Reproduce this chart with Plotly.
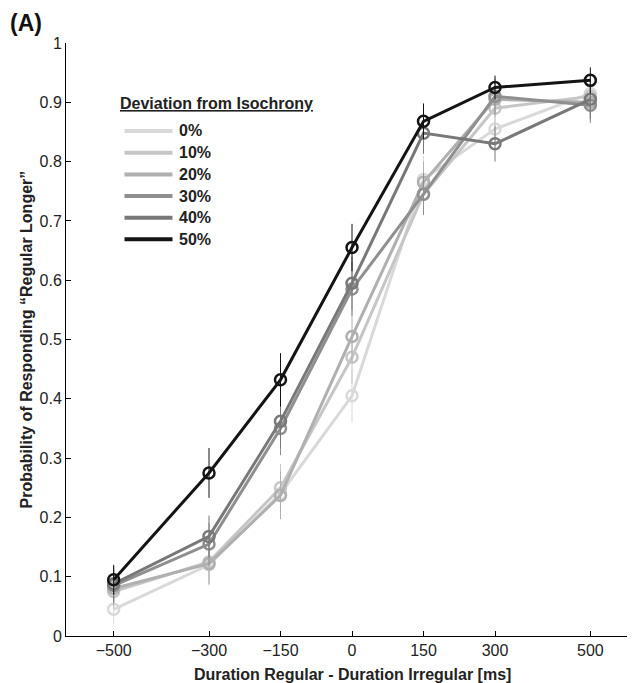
import plotly.graph_objects as go

# ---- data ----
x_ms = [-500, -300, -150, 0, 150, 300, 500]
tick_labels = ["\u2212500", "\u2212300", "\u2212150", "0", "150", "300", "500"]

series_names = ["0%", "10%", "20%", "30%", "40%", "50%"]
p_0 = [0.045, 0.120, 0.240, 0.405, 0.770, 0.855, 0.915]
p_10 = [0.075, 0.125, 0.250, 0.470, 0.745, 0.890, 0.910]
p_20 = [0.080, 0.122, 0.237, 0.505, 0.765, 0.905, 0.900]
p_30 = [0.085, 0.155, 0.350, 0.585, 0.745, 0.910, 0.895]
p_40 = [0.088, 0.168, 0.362, 0.595, 0.848, 0.830, 0.905]
p_50 = [0.095, 0.275, 0.432, 0.655, 0.868, 0.925, 0.937]

e_0 = [0.025, 0.035, 0.040, 0.045, 0.040, 0.030, 0.030]
e_10 = [0.030, 0.036, 0.040, 0.045, 0.035, 0.030, 0.033]
e_20 = [0.030, 0.035, 0.040, 0.045, 0.035, 0.030, 0.030]
e_30 = [0.030, 0.036, 0.045, 0.045, 0.035, 0.030, 0.030]
e_40 = [0.030, 0.035, 0.045, 0.045, 0.035, 0.030, 0.033]
e_50 = [0.025, 0.042, 0.045, 0.040, 0.030, 0.020, 0.022]

colors = ["#d9d9d9", "#c6c6c6", "#b0b0b0", "#8f8f8f", "#787878", "#141414"]

values = [p_0, p_10, p_20, p_30, p_40, p_50]
errors = [e_0, e_10, e_20, e_30, e_40, e_50]

legend_title = "Deviation from Isochrony"
x_title = "Duration Regular - Duration Irregular [ms]"
y_title = "Probability of Responding \u201cRegular Longer\u201d"
panel_label = "(A)"

FONT = "Liberation Sans, Arial, sans-serif"

OFF = 8  # page body margin
W, H = 635, 683
ML, MR, MT, MB = 58, 5, 35, 55
PW = W - ML - MR
PH = H - MT - MB


def px(xp):
    # xp: horizontal position in window pixels
    return (xp - OFF - ML) / PW


def py(yp):
    # yp: vertical position in window pixels
    return (H - MB - (yp - OFF)) / PH


fig = go.Figure()
for name, vals, errs, col in zip(series_names, values, errors, colors):
    fig.add_trace(go.Scatter(
        x=x_ms, y=vals, name=name, mode="lines+markers",
        line=dict(color=col, width=3),
        marker=dict(symbol="circle-open", size=11, color=col, line=dict(width=2.5, color=col)),
        error_y=dict(type="data", array=errs, visible=True, color=col, thickness=1, width=0),
        showlegend=False,
    ))

# manual legend
shapes = []
annotations = []
annotations.append(dict(
    x=px(118), y=py(103), xref="paper", yref="paper", xanchor="left", yanchor="middle",
    text="<u><b>" + legend_title + "</b></u>", showarrow=False,
    font=dict(family=FONT, size=16, color="#222"),
))
row_y = [131, 152.7, 174.5, 196, 217.7, 239.3]
for name, col, ry in zip(series_names, colors, row_y):
    shapes.append(dict(type="line", xref="paper", yref="paper",
                       x0=px(124.5), x1=px(172.5), y0=py(ry), y1=py(ry),
                       line=dict(color=col, width=4)))
    annotations.append(dict(
        x=px(177), y=py(ry), xref="paper", yref="paper", xanchor="left", yanchor="middle",
        text="<b>" + name + "</b>", showarrow=False,
        font=dict(family=FONT, size=16, color="#222"),
    ))

annotations.append(dict(
    x=0.5, y=py(674), xref="paper", yref="paper", xanchor="center", yanchor="middle",
    text="<b>" + x_title + "</b>", showarrow=False,
    font=dict(family=FONT, size=16, color="#222"),
))
annotations.append(dict(
    x=px(26), y=0.5, xref="paper", yref="paper", xanchor="center", yanchor="middle",
    text="<b>" + y_title + "</b>", showarrow=False, textangle=-90,
    font=dict(family=FONT, size=16, color="#222"),
))
annotations.append(dict(
    x=px(8.5), y=py(8.5), xref="paper", yref="paper", xanchor="left", yanchor="top",
    text="<b>" + panel_label + "</b>", showarrow=False, borderpad=0,
    font=dict(family=FONT, size=23, color="#111"),
))

fig.update_layout(
    width=W, height=H,
    margin=dict(l=ML, r=MR, t=MT, b=MB),
    plot_bgcolor="white", paper_bgcolor="white",
    font=dict(family=FONT, size=16, color="#222"),
    shapes=shapes, annotations=annotations,
    showlegend=False,
)
fig.update_xaxes(
    range=[-600, 600], tickmode="array", tickvals=x_ms, ticktext=tick_labels,
    showline=True, linecolor="black", linewidth=1, mirror=False,
    ticks="inside", ticklen=5, tickcolor="black", showgrid=False, zeroline=False,
    tickfont=dict(family=FONT, size=16, color="#222"),
)
fig.update_yaxes(
    range=[0, 1], tickmode="linear", tick0=0, dtick=0.1,
    showline=True, linecolor="black", linewidth=1, mirror=False,
    ticks="inside", ticklen=5, tickcolor="black", showgrid=False, zeroline=False,
    tickfont=dict(family=FONT, size=16, color="#222"),
)

fig.write_html("out.html")
